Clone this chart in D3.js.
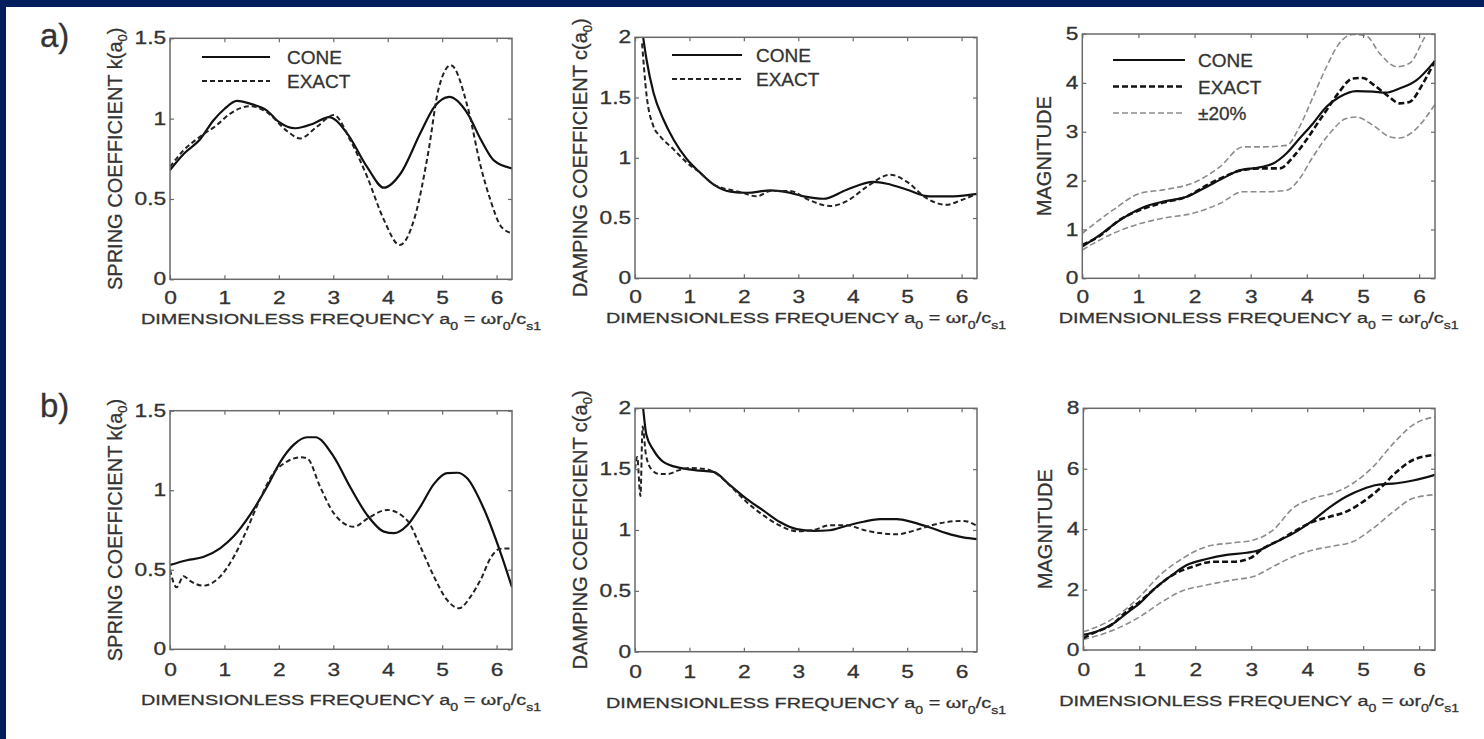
<!DOCTYPE html>
<html>
<head>
<meta charset="utf-8">
<title>Cone model vs exact solution</title>
<script src="https://cdnjs.cloudflare.com/ajax/libs/d3/7.8.5/d3.min.js"></script>
<style>
  body { margin: 0; background: #fff; }
  text { font-family: Arial, "Liberation Sans", Helvetica, sans-serif; fill: #333; stroke: #333; stroke-width: 0.3px; }
</style>
</head>
<body>
<div id="chart"></div>
<script>
var width = 1484, height = 739;
var TWO_PI = 2 * Math.PI;

// ---- data (a0 values, then coefficient values) ----
// a) spring coefficient
var kA_cone_a = [0, 0.25, 0.55, 0.8, 1.0, 1.23, 1.5, 1.78, 2.0, 2.3, 2.64, 2.92, 3.25, 3.62, 3.93, 4.24, 4.6, 4.85, 5.13, 5.47, 5.71, 5.95, 6.283];
var kA_cone   = [0.68, 0.78, 0.87, 0.99, 1.06, 1.11, 1.09, 1.05, 0.98, 0.94, 0.97, 1.01, 0.91, 0.70, 0.57, 0.66, 0.91, 1.07, 1.135, 1.03, 0.87, 0.74, 0.69];
var kA_exact_a = [0, 0.24, 0.55, 0.86, 1.1, 1.47, 1.78, 2.16, 2.39, 2.7, 3.01, 3.31, 3.62, 3.93, 4.22, 4.5, 4.75, 4.93, 5.16, 5.47, 5.71, 5.89, 6.08, 6.283];
var kA_exact   = [0.70, 0.80, 0.887, 0.96, 1.03, 1.078, 1.04, 0.92, 0.877, 0.95, 1.022, 0.867, 0.64, 0.37, 0.213, 0.39, 0.80, 1.18, 1.333, 1.07, 0.70, 0.49, 0.33, 0.286];

// a) damping coefficient
var cA_cone_a = [0.15, 0.21, 0.34, 0.52, 0.71, 0.95, 1.2, 1.44, 1.75, 2.06, 2.49, 2.79, 3.1, 3.46, 3.89, 4.38, 4.63, 5.0, 5.41, 5.85, 6.283];
var cA_cone   = [2.0, 1.82, 1.54, 1.32, 1.15, 0.99, 0.875, 0.78, 0.72, 0.71, 0.73, 0.715, 0.68, 0.66, 0.735, 0.80, 0.785, 0.735, 0.68, 0.68, 0.70];
var cA_exact_a = [0.13, 0.21, 0.34, 0.46, 0.71, 0.95, 1.2, 1.44, 1.94, 2.24, 2.49, 2.85, 3.17, 3.58, 3.89, 4.26, 4.69, 5.0, 5.35, 5.72, 6.0, 6.283];
var cA_exact   = [1.95, 1.53, 1.26, 1.18, 1.07, 0.96, 0.875, 0.78, 0.715, 0.68, 0.725, 0.725, 0.655, 0.60, 0.64, 0.76, 0.86, 0.80, 0.667, 0.61, 0.65, 0.70];

// a) magnitude
var mA_cone_a = [0, 0.31, 0.67, 1.08, 1.44, 1.86, 2.21, 2.51, 2.8, 3.16, 3.4, 3.64, 3.87, 4.11, 4.35, 4.58, 4.88, 5.18, 5.41, 5.65, 5.95, 6.283];
var mA_cone   = [0.65, 0.885, 1.19, 1.45, 1.57, 1.67, 1.87, 2.05, 2.21, 2.27, 2.35, 2.56, 2.86, 3.17, 3.51, 3.71, 3.83, 3.82, 3.80, 3.885, 4.05, 4.45];
var mA_exact_a = [0, 0.31, 0.67, 1.08, 1.44, 1.86, 2.21, 2.51, 2.8, 3.16, 3.52, 3.76, 3.99, 4.23, 4.41, 4.58, 4.82, 5.0, 5.18, 5.47, 5.65, 5.83, 6.07, 6.283];
var mA_exact   = [0.68, 0.87, 1.2, 1.42, 1.55, 1.67, 1.9, 2.07, 2.2, 2.25, 2.25, 2.49, 2.83, 3.24, 3.54, 3.82, 4.09, 4.1, 3.97, 3.71, 3.58, 3.61, 3.99, 4.45];
var mA_upper_a = [0, 0.55, 1.03, 1.44, 2.03, 2.45, 2.86, 3.22, 3.64, 3.87, 4.11, 4.35, 4.58, 4.82, 5.06, 5.3, 5.6, 5.83, 6.07, 6.283];
var mA_upper   = [0.92, 1.40, 1.74, 1.81, 1.98, 2.28, 2.69, 2.69, 2.72, 3.1, 3.71, 4.33, 4.81, 4.99, 4.96, 4.6, 4.33, 4.40, 4.87, 5.34];
var mA_lower_a = [0, 0.55, 1.03, 1.44, 1.97, 2.45, 2.86, 3.22, 3.64, 3.87, 4.11, 4.41, 4.7, 4.88, 5.18, 5.47, 5.65, 5.89, 6.283];
var mA_lower   = [0.58, 0.92, 1.12, 1.23, 1.33, 1.53, 1.77, 1.77, 1.80, 2.04, 2.49, 2.97, 3.27, 3.30, 3.13, 2.9, 2.87, 3.0, 3.56];

// b) spring coefficient
var kB_cone_a = [0, 0.31, 0.61, 0.92, 1.17, 1.47, 1.78, 2.03, 2.27, 2.52, 2.67, 3.01, 3.31, 3.62, 3.93, 4.11, 4.36, 4.6, 4.85, 5.09, 5.28, 5.46, 5.77, 6.08, 6.283];
var kB_cone   = [0.53, 0.56, 0.58, 0.635, 0.71, 0.845, 1.02, 1.18, 1.285, 1.333, 1.333, 1.21, 1.02, 0.845, 0.74, 0.73, 0.78, 0.897, 1.04, 1.107, 1.11, 1.075, 0.88, 0.60, 0.39];
var kB_exact_a = [0, 0.12, 0.25, 0.37, 0.61, 0.92, 1.17, 1.41, 1.66, 1.9, 2.15, 2.39, 2.52, 2.76, 3.01, 3.38, 3.62, 3.99, 4.36, 4.6, 4.85, 5.09, 5.31, 5.52, 5.71, 5.9, 6.05, 6.283];
var kB_exact   = [0.50, 0.39, 0.46, 0.43, 0.40, 0.457, 0.58, 0.75, 0.95, 1.107, 1.18, 1.207, 1.20, 1.02, 0.855, 0.77, 0.82, 0.876, 0.81, 0.645, 0.457, 0.31, 0.258, 0.33, 0.44, 0.58, 0.63, 0.635];

// b) damping coefficient
var cB_cone_a = [0.15, 0.21, 0.34, 0.52, 0.83, 1.13, 1.44, 1.75, 2.05, 2.36, 2.67, 2.97, 3.28, 3.58, 3.89, 4.2, 4.5, 4.81, 5.11, 5.42, 5.72, 6.03, 6.283];
var cB_cone   = [2.0, 1.78, 1.656, 1.56, 1.51, 1.49, 1.477, 1.366, 1.256, 1.159, 1.063, 1.007, 0.993, 0.998, 1.035, 1.068, 1.09, 1.09, 1.063, 1.021, 0.974, 0.939, 0.925];
var cB_exact_a = [0, 0.04, 0.1, 0.14, 0.2, 0.3, 0.45, 0.6, 0.8, 1.0, 1.3, 1.5, 1.8, 2.05, 2.36, 2.67, 2.97, 3.28, 3.58, 3.89, 4.2, 4.5, 4.81, 5.11, 5.42, 5.72, 6.03, 6.283];
var cB_exact   = [1.50, 1.60, 1.28, 1.85, 1.62, 1.50, 1.46, 1.46, 1.49, 1.51, 1.50, 1.46, 1.34, 1.23, 1.12, 1.035, 0.99, 1.0, 1.04, 1.04, 1.0, 0.975, 0.965, 0.993, 1.035, 1.065, 1.075, 1.035];

// b) magnitude
var mB_cone_a = [0, 0.24, 0.54, 0.77, 1.01, 1.25, 1.55, 1.85, 2.2, 2.56, 2.92, 3.15, 3.39, 3.75, 4.11, 4.4, 4.7, 5.0, 5.24, 5.6, 5.89, 6.283];
var mB_cone   = [0.50, 0.61, 0.88, 1.21, 1.55, 1.99, 2.43, 2.81, 3.01, 3.15, 3.22, 3.31, 3.53, 3.86, 4.30, 4.72, 5.08, 5.33, 5.46, 5.52, 5.61, 5.80];
var mB_exact_a = [0, 0.11, 0.54, 0.77, 1.01, 1.25, 1.55, 1.96, 2.32, 2.68, 2.98, 3.22, 3.51, 3.81, 4.11, 4.4, 4.7, 5.0, 5.3, 5.6, 5.89, 6.283];
var mB_exact   = [0.39, 0.50, 0.88, 1.27, 1.6, 1.99, 2.43, 2.76, 2.92, 2.92, 3.04, 3.37, 3.64, 3.97, 4.25, 4.41, 4.58, 4.91, 5.35, 5.90, 6.29, 6.46];
var mB_band_a  = [0, 0.54, 1.01, 1.37, 1.73, 2.2, 2.68, 3.04, 3.39, 3.75, 4.11, 4.46, 4.82, 5.18, 5.54, 5.89, 6.283];
var mB_upper   = [0.6, 1.05, 1.77, 2.48, 2.98, 3.42, 3.55, 3.64, 3.97, 4.7, 5.02, 5.19, 5.52, 6.07, 6.84, 7.45, 7.72];
var mB_lower   = [0.35, 0.66, 1.10, 1.55, 1.93, 2.15, 2.32, 2.43, 2.76, 3.09, 3.31, 3.44, 3.59, 4.03, 4.58, 5.02, 5.14];

// tick labels
var xTicks = [0, 1, 2, 3, 4, 5, 6];
var kTicks = [0, 0.5, 1, 1.5];
var cTicks = [0, 0.5, 1, 1.5, 2];
var mATicks = [0, 1, 2, 3, 4, 5];
var mBTicks = [0, 2, 4, 6, 8];

// ---- styles ----
var styles = {
  cone:  { stroke: "#111", width: 2.2, dash: null },
  exact: { stroke: "#222", width: 2, dash: "5,3" },
  exactHeavy: { stroke: "#111", width: 2.6, dash: "6,3" },
  band:  { stroke: "#8c8c8c", width: 1.6, dash: "6,3" }
};

// ---- layout ----
var panels = [
  { left: 170, right: 512, top: 38.3, bottom: 279.3, ymax: 1.5, yticks: kTicks, ylab: "SPRING COEFFICIENT k(a", yoff: 48, row: 0,
    series: [[kA_cone_a, kA_cone, "cone"], [kA_exact_a, kA_exact, "exact"]],
    legend: { x1: 202, x2: 270, y: 57, dy: 24, tx: 287, items: [["CONE", "cone"], ["EXACT", "exact"]] } },
  { left: 635, right: 977, top: 37.3, bottom: 278.3, ymax: 2, yticks: cTicks, ylab: "DAMPING COEFFICIENT c(a", yoff: 48, row: 0,
    series: [[cA_cone_a, cA_cone, "cone"], [cA_exact_a, cA_exact, "exact"]],
    legend: { x1: 672, x2: 742, y: 55, dy: 24, tx: 756, items: [["CONE", "cone"], ["EXACT", "exact"]] } },
  { left: 1082.3, right: 1435, top: 34, bottom: 278.3, ymax: 5, yticks: mATicks, ylab: "MAGNITUDE", yoff: 31, row: 0,
    series: [[mA_upper_a, mA_upper, "band"], [mA_lower_a, mA_lower, "band"], [mA_exact_a, mA_exact, "exactHeavy"], [mA_cone_a, mA_cone, "cone"]],
    legend: { x1: 1113, x2: 1185, y: 60, dy: 26.5, tx: 1198, items: [["CONE", "cone"], ["EXACT", "exactHeavy"], ["\u00b120%", "band"]] } },
  { left: 170, right: 512, top: 410.7, bottom: 649.3, ymax: 1.5, yticks: kTicks, ylab: "SPRING COEFFICIENT k(a", yoff: 48, row: 1,
    series: [[kB_cone_a, kB_cone, "cone"], [kB_exact_a, kB_exact, "exact"]] },
  { left: 635, right: 977, top: 408.3, bottom: 651.7, ymax: 2, yticks: cTicks, ylab: "DAMPING COEFFICIENT c(a", yoff: 48, row: 1,
    series: [[cB_cone_a, cB_cone, "cone"], [cB_exact_a, cB_exact, "exact"]] },
  { left: 1083.3, right: 1435, top: 408.3, bottom: 650, ymax: 8, yticks: mBTicks, ylab: "MAGNITUDE", yoff: 31, row: 1,
    series: [[mB_band_a, mB_upper, "band"], [mB_band_a, mB_lower, "band"], [mB_exact_a, mB_exact, "exactHeavy"], [mB_cone_a, mB_cone, "cone"]] }
];
var rowCfg = [
  { tickPad: 12.5, labelOff: 45, tag: "a)", tagY: 47 },
  { tickPad: 14, labelOff: 56, tag: "b)", tagY: 417 }
];

var svg = d3.select("#chart").append("svg")
    .attr("width", width)
    .attr("height", height);

svg.append("rect").attr("width", width).attr("height", height).attr("fill", "#fff");
svg.append("rect").attr("width", width).attr("height", 7).attr("fill", "#031e5d");
svg.append("rect").attr("width", 6).attr("height", height).attr("fill", "#031e5d");

rowCfg.forEach(function (r) {
  svg.append("text").attr("x", 40).attr("y", r.tagY)
     .attr("font-size", 33).text(r.tag);
});

function applyStyle(sel, key) {
  var s = styles[key];
  sel.attr("fill", "none")
     .attr("stroke", s.stroke)
     .attr("stroke-width", s.width)
     .attr("stroke-dasharray", s.dash);
}

function styleTicks(g) {
  g.attr("color", "#6a6a6a");
  g.select(".domain").remove();
  g.selectAll("line").attr("stroke-width", 1.2);
}

panels.forEach(function (p, i) {
  var r = rowCfg[p.row];
  var x = d3.scaleLinear().domain([0, TWO_PI]).range([p.left, p.right]);
  var y = d3.scaleLinear().domain([0, p.ymax]).range([p.bottom, p.top]);
  var g = svg.append("g");

  g.append("clipPath").attr("id", "clip" + i).append("rect")
    .attr("x", p.left).attr("y", p.top)
    .attr("width", p.right - p.left).attr("height", p.bottom - p.top);

  var line = d3.line()
      .x(function (d) { return x(d[0]); })
      .y(function (d) { return y(d[1]); })
      .curve(d3.curveMonotoneX);

  var lines = g.append("g").attr("clip-path", "url(#clip" + i + ")");
  p.series.forEach(function (s) {
    lines.append("path").datum(d3.zip(s[0], s[1])).attr("d", line).call(applyStyle, s[2]);
  });

  // frame
  g.append("rect")
    .attr("x", p.left).attr("y", p.top)
    .attr("width", p.right - p.left).attr("height", p.bottom - p.top)
    .attr("fill", "none").attr("stroke", "#6a6a6a").attr("stroke-width", 1.5);

  // axes, MATLAB style inward ticks on all sides
  var fmt = d3.format("~g");
  var xb = g.append("g").attr("transform", "translate(0," + p.bottom + ")")
    .call(d3.axisBottom(x).tickValues(xTicks).tickFormat(fmt).tickSize(-4).tickSizeOuter(0).tickPadding(r.tickPad));
  var yl = g.append("g").attr("transform", "translate(" + p.left + ",0)")
    .call(d3.axisLeft(y).tickValues(p.yticks).tickFormat(fmt).tickSize(-4).tickSizeOuter(0).tickPadding(3));
  var xt = g.append("g").attr("transform", "translate(0," + p.top + ")")
    .call(d3.axisTop(x).tickValues(xTicks).tickFormat("").tickSize(-4).tickSizeOuter(0));
  var yr = g.append("g").attr("transform", "translate(" + p.right + ",0)")
    .call(d3.axisRight(y).tickValues(p.yticks).tickFormat("").tickSize(-4).tickSizeOuter(0));
  [xb, yl, xt, yr].forEach(styleTicks);
  [xb, yl].forEach(function (a) {
    a.attr("font-size", 17.5).attr("font-family", null);
    a.selectAll("text").attr("fill", "#333").attr("transform", "scale(1.3,1)");
  });

  // y label
  var yt = g.append("text")
    .attr("transform", "translate(" + (p.left - p.yoff) + "," + ((p.top + p.bottom) / 2) + ") rotate(-90)")
    .attr("text-anchor", "middle")
    .attr("font-size", 20);
  yt.append("tspan").text(p.ylab);
  if (p.ylab !== "MAGNITUDE") {
    yt.append("tspan").attr("font-size", 13).attr("dy", 5).text("0");
    yt.append("tspan").attr("dy", -5).text(")");
  }

  // x label
  var xl = g.append("text")
    .attr("transform", "translate(" + ((p.left + p.right) / 2) + "," + (p.bottom + r.labelOff) + ") scale(1.28,1)")
    .attr("text-anchor", "middle")
    .attr("font-size", 15.5);
  xl.append("tspan").text("DIMENSIONLESS FREQUENCY a");
  xl.append("tspan").attr("font-size", 11).attr("dy", 6).text("0");
  xl.append("tspan").attr("dy", -6).text(" = \u03c9r");
  xl.append("tspan").attr("font-size", 11).attr("dy", 6).text("0");
  xl.append("tspan").attr("dy", -6).text("/c");
  xl.append("tspan").attr("font-size", 11).attr("dy", 6).text("s1");

  // legend
  if (p.legend) {
    var L = p.legend;
    p.legend.items.forEach(function (it, k) {
      var yy = L.y + k * L.dy;
      g.append("line").attr("x1", L.x1).attr("x2", L.x2).attr("y1", yy).attr("y2", yy).call(applyStyle, it[1]);
      g.append("text").attr("x", L.tx).attr("y", yy + 7).attr("font-size", 19).text(it[0]);
    });
  }
});
</script>
</body>
</html>
